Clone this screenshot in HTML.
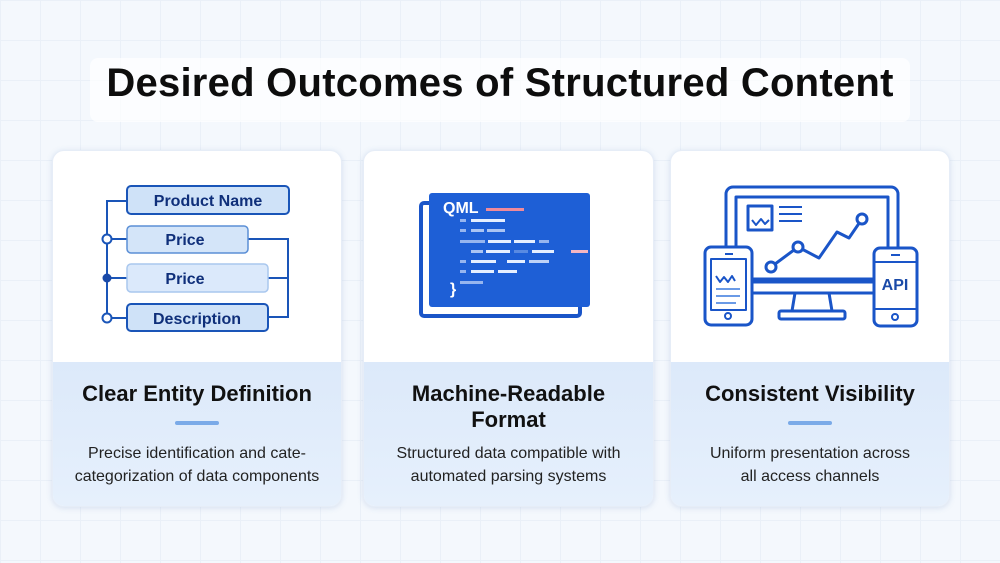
<!DOCTYPE html>
<html><head><meta charset="utf-8"><style>
body{margin:0;width:1000px;height:563px;overflow:hidden;font-family:"Liberation Sans",sans-serif;
background-color:#f4f8fd;
background-image:linear-gradient(#eaf0f8 1px,transparent 1px),linear-gradient(90deg,#eaf0f8 1px,transparent 1px);
background-size:40px 40px;position:relative}
.title{position:absolute;left:0;width:1000px;top:61px;text-align:center;font-size:40px;font-weight:bold;color:#0d0d0d;letter-spacing:0.25px}
.tbg{position:absolute;left:90px;top:58px;width:820px;height:64px;background:rgba(255,255,255,0.7);border-radius:8px}
.card{position:absolute;top:150px;height:355px;background:#fff;border-radius:12px;box-shadow:0 1px 6px rgba(120,150,200,0.25);overflow:hidden;border:1px solid #e6edf7}
.low{position:absolute;left:0;right:0;top:211px;bottom:0;background:linear-gradient(#dce9fa,#e6f0fc)}
.h{position:absolute;left:0;right:0;text-align:center;font-weight:bold;font-size:22px;color:#111;line-height:26px}
.bar{position:absolute;width:44px;height:4px;background:#7aaae8;border-radius:2px}
.d{position:absolute;left:0;right:0;text-align:center;font-size:16px;color:#222;line-height:23px}
</style></head><body>
<div class="tbg"></div>
<div class="title">Desired Outcomes of Structured Content</div>

<div class="card" style="left:52px;width:288px">
 <div class="low"></div>
 <div class="h" style="top:230px">Clear Entity Definition</div>
 <div class="bar" style="left:122px;top:270px"></div>
 <div class="d" style="top:291px">Precise identification and cate-<br>categorization of data components</div>
</div>
<div class="card" style="left:363px;width:289px">
 <div class="low"></div>
 <div class="h" style="top:230px">Machine-Readable<br>Format</div>
 <div class="d" style="top:291px">Structured data compatible with<br>automated parsing systems</div>
</div>
<div class="card" style="left:670px;width:278px">
 <div class="low"></div>
 <div class="h" style="top:230px">Consistent Visibility</div>
 <div class="bar" style="left:117px;top:270px"></div>
 <div class="d" style="top:291px">Uniform presentation across<br>all access channels</div>
</div>

<svg width="1000" height="563" style="position:absolute;left:0;top:0" font-family="Liberation Sans, sans-serif">
 <g stroke="#1a55b8" stroke-width="2" fill="none">
  <path d="M127 201H107V318H127M107 239H127M107 278H127M248 239H288V317H268M268 278H288"/>
 </g>
 <rect x="127" y="186" width="162" height="28" rx="4" fill="#cfe2f8" stroke="#1a55b8" stroke-width="2"/>
 <rect x="127" y="226" width="121" height="27" rx="4" fill="#d4e5f9" stroke="#5b8fd6" stroke-width="1.5"/>
 <rect x="127" y="264" width="141" height="28" rx="4" fill="#dbe9fb" stroke="#a9c7ee" stroke-width="1.5"/>
 <rect x="127" y="304" width="141" height="27" rx="4" fill="#cfe2f8" stroke="#1a55b8" stroke-width="2"/>
 <circle cx="107" cy="239" r="4.5" fill="#fff" stroke="#1a55b8" stroke-width="2"/>
 <circle cx="107" cy="278" r="4.5" fill="#1a4aa8"/>
 <circle cx="107" cy="318" r="4.5" fill="#fff" stroke="#1a55b8" stroke-width="2"/>
 <g fill="#0f2f7a" font-size="16" font-weight="bold" text-anchor="middle">
  <text x="208" y="206">Product Name</text>
  <text x="185" y="245">Price</text>
  <text x="185" y="284">Price</text>
  <text x="197" y="324">Description</text>
 </g>
 <rect x="421" y="203" width="159" height="113" rx="3" fill="#fff" stroke="#1a55c8" stroke-width="4"/>
 <rect x="429" y="193" width="161" height="114" rx="3" fill="#1e5fd6"/>
 <text x="443" y="213" fill="#fff" font-size="16" font-weight="bold">QML</text>
 <rect x="486" y="208" width="38" height="3" fill="#f08a9a"/>
 <g fill="#e6efff">
  <rect x="460" y="219" width="6" height="3" opacity=".6"/><rect x="471" y="219" width="34" height="3"/>
  <rect x="460" y="229" width="6" height="3" opacity=".6"/><rect x="471" y="229" width="13" height="3" opacity=".7"/><rect x="487" y="229" width="18" height="3" opacity=".7"/>
  <rect x="460" y="240" width="25" height="3" opacity=".6"/><rect x="488" y="240" width="23" height="3"/><rect x="514" y="240" width="21" height="3"/><rect x="539" y="240" width="10" height="3" opacity=".6"/>
  <rect x="471" y="250" width="12" height="3" opacity=".7"/><rect x="486" y="250" width="24" height="3"/><rect x="514" y="250" width="14" height="3" opacity=".3"/><rect x="532" y="250" width="22" height="3"/>
  <rect x="460" y="260" width="6" height="3" opacity=".6"/><rect x="471" y="260" width="25" height="3"/><rect x="507" y="260" width="18" height="3"/><rect x="529" y="260" width="20" height="3" opacity=".8"/>
  <rect x="460" y="270" width="6" height="3" opacity=".6"/><rect x="471" y="270" width="23" height="3"/><rect x="498" y="270" width="19" height="3"/>
  <rect x="460" y="281" width="23" height="3" opacity=".6"/>
 </g>
 <rect x="571" y="250" width="17" height="3" fill="#f4b6c2"/>
 <text x="450" y="294" fill="#fff" font-size="16" font-weight="bold">}</text>
 <g stroke="#1a55c8" stroke-width="3" fill="none" stroke-linejoin="round">
  <rect x="726" y="187" width="172" height="106" rx="7"/>
  <rect x="736" y="197" width="152" height="82"/>
  <path d="M736 282H888"/>
  <path d="M795 293L792 311M829 293L832 311"/>
  <rect x="779" y="311" width="66" height="8" rx="2"/>
  <rect x="748" y="206" width="24" height="24"/>
  <path d="M752 220l4 5 5-6 4 5 4-4" stroke-width="2"/>
  <path d="M779 207H802M779 214H802M779 221H802" stroke-width="2"/>
  <path d="M771 267L798 247L819 258L837 232L849 238L862 219"/>
  <rect x="705" y="247" width="47" height="78" rx="6" fill="#fff"/>
  <rect x="711" y="259" width="35" height="51" fill="#fff" stroke-width="2"/>
  <path d="M725 254h8" stroke-width="2"/>
  <circle cx="728" cy="316" r="3" stroke-width="2"/>
  <path d="M716 276l4 6 4-5 4 5 4-6 3 5" stroke-width="2"/>
  <path d="M716 289H740M716 296H740M716 303H736" stroke="#6a9ae6" stroke-width="2"/>
  <rect x="874" y="248" width="43" height="78" rx="6" fill="#fff"/>
  <path d="M874 262H917M874 309H917" stroke-width="2"/>
  <path d="M891 255h9" stroke-width="2"/>
  <circle cx="895" cy="317" r="3" stroke-width="2"/>
 </g>
 <circle cx="771" cy="267" r="5" fill="#fff" stroke="#1a55c8" stroke-width="3"/>
 <circle cx="798" cy="247" r="5" fill="#fff" stroke="#1a55c8" stroke-width="3"/>
 <circle cx="862" cy="219" r="5" fill="#fff" stroke="#1a55c8" stroke-width="3"/>
 <text x="895" y="290" fill="#1a4aa8" font-size="16" font-weight="bold" text-anchor="middle">API</text>
</svg>
</body></html>
